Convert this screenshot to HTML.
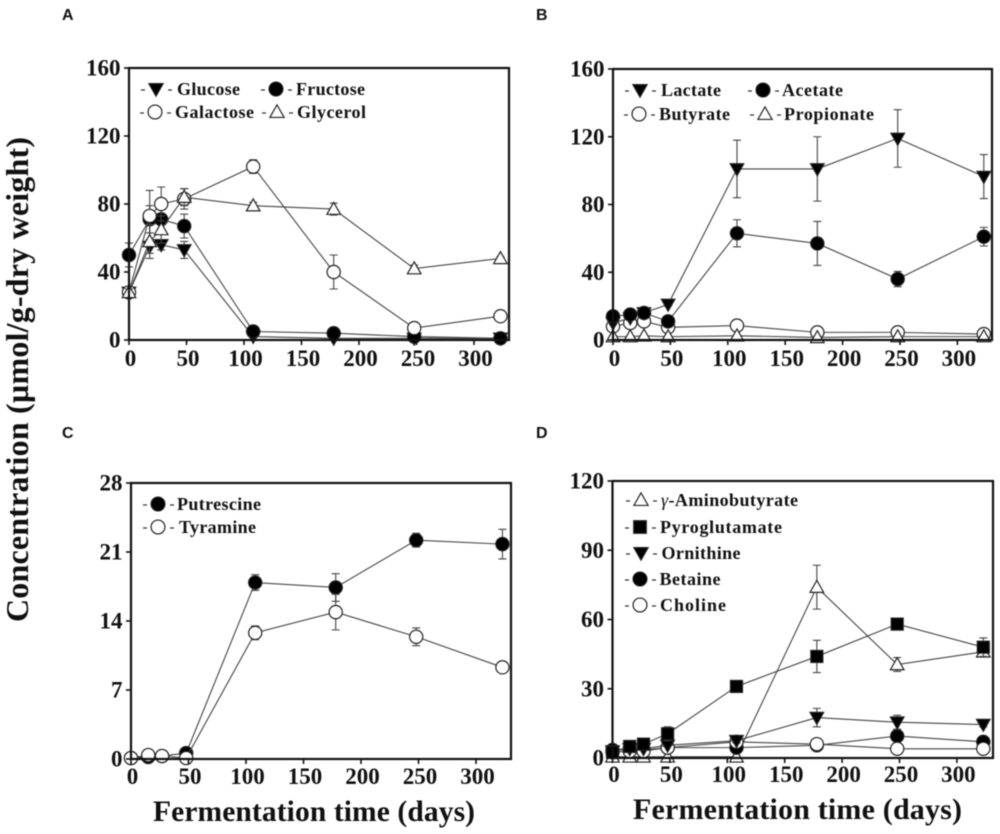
<!DOCTYPE html>
<html lang="en">
<head>
<meta charset="utf-8">
<title>Metabolite concentrations during fermentation</title>
<style>
html,body{margin:0;padding:0;background:#fff;width:1000px;height:834px;overflow:hidden}
svg{display:block;filter:blur(0.4px)}
text{font-family:"Liberation Serif",serif;font-weight:bold;fill:#111}
.panel-letter{font-family:"Liberation Sans",sans-serif;font-size:16px;fill:#111}
</style>
</head>
<body>
<svg id="figure" xmlns="http://www.w3.org/2000/svg" width="1000" height="834" viewBox="0 0 1000 834">
  <rect x="0" y="0" width="1000" height="834" fill="#fff"/>
  <text transform="translate(28,622) rotate(-90)" font-size="32" textLength="485" lengthAdjust="spacing">Concentration (µmol/g-dry weight)</text>
  <text x="153" y="821" font-size="29.5" textLength="322" lengthAdjust="spacing">Fermentation time (days)</text>
  <text x="633" y="819" font-size="30" textLength="329" lengthAdjust="spacing">Fermentation time (days)</text>
  <text class="panel-letter" x="62" y="20">A</text>
  <text class="panel-letter" x="536" y="20">B</text>
  <text class="panel-letter" x="62" y="438">C</text>
  <text class="panel-letter" x="536" y="438">D</text>
</svg>
<script>
// ---- shared tick labels ----
const xTicks = [0, 50, 100, 150, 200, 250, 300];
const yTicksAB = [0, 40, 80, 120, 160];
const yTicksC = [0, 7, 14, 21, 28];
const yTicksD = [0, 30, 60, 90, 120];

// ---- sampling days ----
const daysA = [0, 18, 28, 48, 108, 178, 248, 323];
const daysBCD = [0, 15, 27, 48, 108, 178, 248, 323];

// ---- panel A ----
const glucose = [28, 55, 56, 53, 2, 1, 1, 1];
const glucoseErr = [2, 4, 3, 5, 0.5, 0.5, 0.5, 0.5];
const fructose = [50, 71, 71, 67, 5, 4, 2, 1];
const fructoseErr = [7, 8, 6, 7, 1, 1, 0.5, 0.5];
const galactose = [28, 73, 80, 83, 102, 40, 7, 14];
const galactoseErr = [2, 15, 10, 6, 4, 10, 1, 1];
const glycerol = [28, 58, 65, 84, 79, 77, 42, 48];
const glycerolErr = [2, 10, 8, 5, 2, 3.5, 2, 1];

// ---- panel B ----
const lactate = [10, 13, 16, 21, 101, 101, 119, 96.5];
const lactateErr = [1, 1, 1, 1, 17, 19, 17, 13];
const acetate = [14, 15, 16, 11, 63, 57, 36, 61];
const acetateErr = [1, 1, 1, 1, 8, 13, 4.5, 5.5];
const butyrate = [8, 10, 11, 7.5, 8.5, 4.5, 4.5, 3.5];
const butyrateErr = [1, 1, 1, 0.5, 0.5, 0.5, 0.5, 0.5];
const propionate = [2, 2, 2.5, 2, 2.5, 1.5, 2, 2];
const propionateErr = [0.3, 0.3, 0.3, 0.3, 0.3, 0.3, 0.3, 0.3];

// ---- panel C ----
const putrescine = [0.1, 0.2, 0.3, 0.6, 17.9, 17.4, 22.2, 21.8];
const putrescineErr = [0, 0, 0, 0.1, 0.8, 1.4, 0.7, 1.5];
const tyramine = [0.1, 0.4, 0.3, 0.1, 12.8, 14.9, 12.4, 9.3];
const tyramineErr = [0, 0, 0, 0, 0.7, 1.8, 0.9, 0.2];

// ---- panel D ----
const gaba = [0.5, 0.5, 0.5, 0.5, 0.5, 74, 40.5, 46];
const gabaErr = [0.2, 0.2, 0.2, 0.2, 0.2, 9.5, 3, 2];
const pyroglutamate = [2.5, 5, 6, 10.5, 31, 44, 58, 48];
const pyroglutamateErr = [2, 1, 1, 3, 2, 7, 1, 4];
const ornithine = [3, 4, 4, 5.5, 7.5, 17.5, 15.5, 14.5];
const ornithineErr = [0.5, 0.5, 0.5, 0.5, 1, 4, 3, 1];
const betaine = [3.5, 4, 3.5, 4.5, 4.5, 5.5, 9.5, 7];
const betaineErr = [0.5, 0.5, 0.5, 0.5, 0.5, 0.5, 1, 1];
const choline = [2.5, 3, 3, 4.5, 7, 6, 4, 4];
const cholineErr = [0.5, 0.5, 0.5, 0.5, 0.5, 0.5, 0.5, 0.5];

// ---- drawing ----
const SVG_NS = 'http://www.w3.org/2000/svg';
const root = document.getElementById('figure');

function mk(parent, tag, attrs, name) {
  const el = document.createElementNS(SVG_NS, tag);
  for (const k in attrs) el.setAttribute(k, attrs[k]);
  
  
  parent.appendChild(el);
  return el;
}

function marker(parent, kind, cx, cy, s, name) {
  const stroke = '#222';
  const g = {stroke: stroke, 'stroke-width': 1.2};
  const pts = (a) => a.map(p => (cx + p[0] * s) + ',' + (cy + p[1] * s)).join(' ');
  if (kind === 'filled-circle' || kind === 'open-circle') {
    return mk(parent, 'circle', Object.assign({cx: cx, cy: cy, r: 6.6 * s, fill: kind === 'filled-circle' ? '#000' : '#fff'}, g), name);
  }
  if (kind === 'filled-square') {
    return mk(parent, 'rect', Object.assign({x: cx - 6 * s, y: cy - 6 * s, width: 12 * s, height: 12 * s, fill: '#000'}, g), name);
  }
  if (kind === 'down-triangle') {
    return mk(parent, 'polygon', Object.assign({points: pts([[-6.8, -5.2], [6.8, -5.2], [0, 6.8]]), fill: '#000'}, g), name);
  }
  return mk(parent, 'polygon', Object.assign({points: pts([[0, -6.8], [6.8, 5.2], [-6.8, 5.2]]), fill: '#fff'}, g), name);
}

function drawPanel(p) {
  const panel = mk(root, 'g', {}, 'panel-' + p.id);
  const xAt = (d) => p.left + d * p.pxPerDay;
  const yAt = (v) => p.bottom - (v / p.yMax) * (p.bottom - p.top);

  // series lines, error bars and markers
  p.series.forEach((s) => {
    const g = mk(panel, 'g', {}, s.key + '-series');
    const line = s.values.map((v, i) => xAt(p.days[i]) + ',' + yAt(v)).join(' ');
    mk(g, 'polyline', {points: line, fill: 'none', stroke: '#444', 'stroke-width': 1.1}, s.key + '-line');
    s.values.forEach((v, i) => {
      const x = xAt(p.days[i]);
      const hi = yAt(v + s.errors[i]);
      const lo = yAt(v - s.errors[i]);
      mk(g, 'path', {d: 'M' + x + ' ' + hi + 'V' + lo + 'M' + (x - 4) + ' ' + hi + 'H' + (x + 4) + 'M' + (x - 4) + ' ' + lo + 'H' + (x + 4), fill: 'none', stroke: '#444', 'stroke-width': 1.1}, s.key + '-error-bar');
    });
    s.values.forEach((v, i) => {
      marker(g, s.kind, xAt(p.days[i]), yAt(v), 1, s.key + '-point');
    });
  });

  // frame
  mk(panel, 'rect', {x: p.left, y: p.top, width: p.right - p.left, height: p.bottom - p.top, fill: 'none', stroke: '#111', 'stroke-width': 2.2}, 'plot-frame-' + p.id);

  // y axis ticks and labels
  p.yTicks.forEach((t) => {
    const y = yAt(t);
    mk(panel, 'line', {x1: p.left - 5, x2: p.left, y1: y, y2: y, stroke: '#111', 'stroke-width': 1.6}, 'y-tick-' + p.id);
    const label = mk(panel, 'text', {x: p.left - 8.5, y: y + 7.5, 'font-size': 23, 'text-anchor': 'end'}, 'y-tick-label-' + p.id);
    label.textContent = t;
  });

  // x axis ticks and labels
  xTicks.forEach((t) => {
    const x = xAt(t);
    mk(panel, 'line', {x1: x, x2: x, y1: p.bottom, y2: p.bottom + 5, stroke: '#111', 'stroke-width': 1.6}, 'x-tick-' + p.id);
    const label = mk(panel, 'text', {x: x + 1.5, y: p.xLabelY, 'font-size': 23, 'text-anchor': 'middle'}, 'x-tick-label-' + p.id);
    label.textContent = t;
  });

  // legend
  const legend = mk(panel, 'g', {}, 'legend-' + p.id);
  p.legend.forEach((e) => {
    const item = mk(legend, 'g', {}, 'legend-entry-' + e.key);
    mk(item, 'path', {d: 'M' + (e.mx - 15) + ' ' + (e.y + 1) + 'h4M' + (e.mx + 12) + ' ' + (e.y + 1) + 'h4', stroke: '#333', 'stroke-width': 1.2, fill: 'none'}, 'legend-dash-' + e.key);
    marker(item, e.kind, e.mx, e.y, 1.05, 'legend-marker-' + e.key);
    const label = mk(item, 'text', {x: e.tx, y: e.y + 6, 'font-size': 18, textLength: e.len, lengthAdjust: 'spacing'}, 'legend-label-' + e.key);
    if (e.gamma) {
      const g = mk(label, 'tspan', {'font-style': 'italic', 'font-weight': 'normal'}, 'legend-gamma-symbol');
      g.textContent = 'γ';
      label.appendChild(document.createTextNode('-' + e.label));
    } else {
      label.textContent = e.label;
    }
  });
}

drawPanel({
  id: 'a', left: 129, right: 509, top: 68, bottom: 340, yMax: 160, pxPerDay: 1.15, xLabelY: 366,
  days: daysA, yTicks: yTicksAB,
  series: [
    {key: 'glucose', kind: 'down-triangle', values: glucose, errors: glucoseErr},
    {key: 'fructose', kind: 'filled-circle', values: fructose, errors: fructoseErr},
    {key: 'galactose', kind: 'open-circle', values: galactose, errors: galactoseErr},
    {key: 'glycerol', kind: 'up-triangle', values: glycerol, errors: glycerolErr}
  ],
  legend: [
    {key: 'glucose', label: 'Glucose', kind: 'down-triangle', mx: 156, tx: 177, y: 89, len: 63},
    {key: 'fructose', label: 'Fructose', kind: 'filled-circle', mx: 276, tx: 296, y: 89, len: 69},
    {key: 'galactose', label: 'Galactose', kind: 'open-circle', mx: 155, tx: 175, y: 112, len: 79},
    {key: 'glycerol', label: 'Glycerol', kind: 'up-triangle', mx: 277, tx: 297, y: 112, len: 69}
  ]
});

drawPanel({
  id: 'b', left: 613, right: 992, top: 69, bottom: 340, yMax: 160, pxPerDay: 1.148, xLabelY: 366,
  days: daysBCD, yTicks: yTicksAB,
  series: [
    {key: 'butyrate', kind: 'open-circle', values: butyrate, errors: butyrateErr},
    {key: 'propionate', kind: 'up-triangle', values: propionate, errors: propionateErr},
    {key: 'lactate', kind: 'down-triangle', values: lactate, errors: lactateErr},
    {key: 'acetate', kind: 'filled-circle', values: acetate, errors: acetateErr}
  ],
  legend: [
    {key: 'lactate', label: 'Lactate', kind: 'down-triangle', mx: 640, tx: 661, y: 90, len: 60},
    {key: 'acetate', label: 'Acetate', kind: 'filled-circle', mx: 763, tx: 782, y: 90, len: 61},
    {key: 'butyrate', label: 'Butyrate', kind: 'open-circle', mx: 639, tx: 659, y: 114, len: 71},
    {key: 'propionate', label: 'Propionate', kind: 'up-triangle', mx: 765, tx: 784, y: 114, len: 90}
  ]
});

drawPanel({
  id: 'c', left: 131, right: 511, top: 483, bottom: 759, yMax: 28, pxPerDay: 1.15, xLabelY: 784,
  days: daysBCD, yTicks: yTicksC,
  series: [
    {key: 'putrescine', kind: 'filled-circle', values: putrescine, errors: putrescineErr},
    {key: 'tyramine', kind: 'open-circle', values: tyramine, errors: tyramineErr}
  ],
  legend: [
    {key: 'putrescine', label: 'Putrescine', kind: 'filled-circle', mx: 158, tx: 177, y: 504, len: 84},
    {key: 'tyramine', label: 'Tyramine', kind: 'open-circle', mx: 158, tx: 179, y: 527, len: 77}
  ]
});

drawPanel({
  id: 'd', left: 612.5, right: 993, top: 481, bottom: 758, yMax: 120, pxPerDay: 1.148, xLabelY: 782,
  days: daysBCD, yTicks: yTicksD,
  series: [
    {key: 'gaba', kind: 'up-triangle', values: gaba, errors: gabaErr},
    {key: 'betaine', kind: 'filled-circle', values: betaine, errors: betaineErr},
    {key: 'choline', kind: 'open-circle', values: choline, errors: cholineErr},
    {key: 'ornithine', kind: 'down-triangle', values: ornithine, errors: ornithineErr},
    {key: 'pyroglutamate', kind: 'filled-square', values: pyroglutamate, errors: pyroglutamateErr}
  ],
  legend: [
    {key: 'gaba', label: 'Aminobutyrate', gamma: true, kind: 'up-triangle', mx: 641, tx: 661, y: 500, len: 137},
    {key: 'pyroglutamate', label: 'Pyroglutamate', kind: 'filled-square', mx: 640, tx: 660, y: 527, len: 122},
    {key: 'ornithine', label: 'Ornithine', kind: 'down-triangle', mx: 641, tx: 661.5, y: 553, len: 79},
    {key: 'betaine', label: 'Betaine', kind: 'filled-circle', mx: 640, tx: 659.5, y: 579, len: 61},
    {key: 'choline', label: 'Choline', kind: 'open-circle', mx: 640, tx: 660, y: 605, len: 66}
  ]
});
</script>
</body>
</html>
